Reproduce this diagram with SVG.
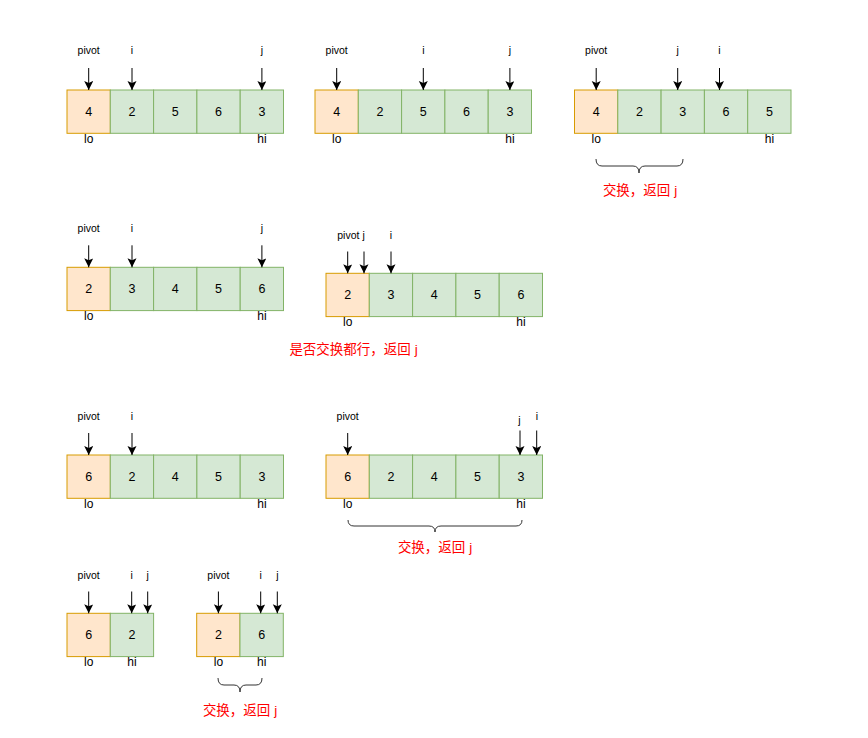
<svg xmlns="http://www.w3.org/2000/svg" width="868" height="738" viewBox="0 0 868 738">
<defs>
<marker id="ah" markerWidth="10" markerHeight="10" refX="9" refY="4.5" orient="auto" markerUnits="userSpaceOnUse">
<path d="M0,0 L9,4.5 L0,9 L2,4.5 Z" fill="#000"/>
</marker>
</defs>
<style>
text{font-family:"Liberation Sans","Noto Sans CJK SC",sans-serif;fill:#000;text-anchor:middle;dominant-baseline:central}
.p rect{fill:#ffe6cc;stroke:#d79b00;stroke-width:1}
.g rect{fill:#d5e8d4;stroke:#82b366;stroke-width:1}
.v{font-size:12.5px}
.lb{font-size:10.5px}
.lh{font-size:12px}
.red{fill:#ff0000;font-size:13.5px}
.red2{fill:#ff0000;font-size:13.5px}
#conn line{stroke:#000;stroke-width:1;marker-end:url(#ah)}
.br{fill:none;stroke:#333;stroke-width:1}
</style>
<rect width="868" height="738" fill="#fff"/>

<!-- Array 1 -->
<g id="a1">
<g id="a1c0" class="p"><rect x="67" y="90" width="43.3" height="43.3"/><text class="v" x="88.7" y="111.7">4</text></g>
<g id="a1c1" class="g"><rect x="110.3" y="90" width="43.3" height="43.3"/><text class="v" x="132" y="111.7">2</text></g>
<g id="a1c2" class="g"><rect x="153.6" y="90" width="43.3" height="43.3"/><text class="v" x="175.3" y="111.7">5</text></g>
<g id="a1c3" class="g"><rect x="196.9" y="90" width="43.3" height="43.3"/><text class="v" x="218.6" y="111.7">6</text></g>
<g id="a1c4" class="g"><rect x="240.2" y="90" width="43.3" height="43.3"/><text class="v" x="261.9" y="111.7">3</text></g>
<g id="a1lbl"><text class="lb" x="88.7" y="50">pivot</text><text class="lb" x="132" y="50">i</text><text class="lb" x="261.9" y="50">j</text>
<text class="lh" x="88.7" y="139">lo</text><text class="lh" x="261.9" y="139">hi</text></g>
</g>

<!-- Array 2 -->
<g id="a2">
<g id="a2c0" class="p"><rect x="315" y="90" width="43.3" height="43.3"/><text class="v" x="336.7" y="111.7">4</text></g>
<g id="a2c1" class="g"><rect x="358.3" y="90" width="43.3" height="43.3"/><text class="v" x="380" y="111.7">2</text></g>
<g id="a2c2" class="g"><rect x="401.6" y="90" width="43.3" height="43.3"/><text class="v" x="423.3" y="111.7">5</text></g>
<g id="a2c3" class="g"><rect x="444.9" y="90" width="43.3" height="43.3"/><text class="v" x="466.6" y="111.7">6</text></g>
<g id="a2c4" class="g"><rect x="488.2" y="90" width="43.3" height="43.3"/><text class="v" x="509.9" y="111.7">3</text></g>
<g id="a2lbl"><text class="lb" x="336.7" y="50">pivot</text><text class="lb" x="423.3" y="50">i</text><text class="lb" x="509.9" y="50">j</text>
<text class="lh" x="336.7" y="139">lo</text><text class="lh" x="509.9" y="139">hi</text></g>
</g>

<!-- Array 3 -->
<g id="a3">
<g id="a3c0" class="p"><rect x="574.5" y="90" width="43.3" height="43.3"/><text class="v" x="596.2" y="111.7">4</text></g>
<g id="a3c1" class="g"><rect x="617.8" y="90" width="43.3" height="43.3"/><text class="v" x="639.5" y="111.7">2</text></g>
<g id="a3c2" class="g"><rect x="661.1" y="90" width="43.3" height="43.3"/><text class="v" x="682.8" y="111.7">3</text></g>
<g id="a3c3" class="g"><rect x="704.4" y="90" width="43.3" height="43.3"/><text class="v" x="726.1" y="111.7">6</text></g>
<g id="a3c4" class="g"><rect x="747.7" y="90" width="43.3" height="43.3"/><text class="v" x="769.4" y="111.7">5</text></g>
<g id="a3lbl"><text class="lb" x="596.2" y="50">pivot</text><text class="lb" x="677.7" y="50">j</text><text class="lb" x="719.5" y="50">i</text>
<text class="lh" x="596.2" y="139">lo</text><text class="lh" x="769.4" y="139">hi</text></g>
<path class="br" d="M596,159 Q596,166 602,166 L633,166 Q639,166 639,173 Q639,166 645,166 L677,166 Q683,166 683,159"/>
<text class="red" x="640" y="190">交换，返回 j</text>
</g>

<!-- Array 4 -->
<g id="a4">
<g id="a4c0" class="p"><rect x="67" y="267.3" width="43.3" height="43.3"/><text class="v" x="88.7" y="289">2</text></g>
<g id="a4c1" class="g"><rect x="110.3" y="267.3" width="43.3" height="43.3"/><text class="v" x="132" y="289">3</text></g>
<g id="a4c2" class="g"><rect x="153.6" y="267.3" width="43.3" height="43.3"/><text class="v" x="175.3" y="289">4</text></g>
<g id="a4c3" class="g"><rect x="196.9" y="267.3" width="43.3" height="43.3"/><text class="v" x="218.6" y="289">5</text></g>
<g id="a4c4" class="g"><rect x="240.2" y="267.3" width="43.3" height="43.3"/><text class="v" x="261.9" y="289">6</text></g>
<g id="a4lbl"><text class="lb" x="88.7" y="228">pivot</text><text class="lb" x="132" y="228">i</text><text class="lb" x="261.9" y="228">j</text>
<text class="lh" x="88.7" y="316">lo</text><text class="lh" x="261.9" y="316">hi</text></g>
</g>

<!-- Array 5 -->
<g id="a5">
<g id="a5c0" class="p"><rect x="326" y="273.3" width="43.3" height="43.3"/><text class="v" x="347.7" y="295">2</text></g>
<g id="a5c1" class="g"><rect x="369.3" y="273.3" width="43.3" height="43.3"/><text class="v" x="391" y="295">3</text></g>
<g id="a5c2" class="g"><rect x="412.6" y="273.3" width="43.3" height="43.3"/><text class="v" x="434.3" y="295">4</text></g>
<g id="a5c3" class="g"><rect x="455.9" y="273.3" width="43.3" height="43.3"/><text class="v" x="477.6" y="295">5</text></g>
<g id="a5c4" class="g"><rect x="499.2" y="273.3" width="43.3" height="43.3"/><text class="v" x="520.9" y="295">6</text></g>
<g id="a5lbl"><text class="lb" x="351" y="235">pivot j</text><text class="lb" x="391" y="235">i</text>
<text class="lh" x="347.7" y="322">lo</text><text class="lh" x="520.9" y="322">hi</text></g>
<text class="red2" x="353.5" y="349">是否交换都行，返回 j</text>
</g>

<!-- Array 6 -->
<g id="a6">
<g id="a6c0" class="p"><rect x="67" y="455" width="43.3" height="43.3"/><text class="v" x="88.7" y="476.7">6</text></g>
<g id="a6c1" class="g"><rect x="110.3" y="455" width="43.3" height="43.3"/><text class="v" x="132" y="476.7">2</text></g>
<g id="a6c2" class="g"><rect x="153.6" y="455" width="43.3" height="43.3"/><text class="v" x="175.3" y="476.7">4</text></g>
<g id="a6c3" class="g"><rect x="196.9" y="455" width="43.3" height="43.3"/><text class="v" x="218.6" y="476.7">5</text></g>
<g id="a6c4" class="g"><rect x="240.2" y="455" width="43.3" height="43.3"/><text class="v" x="261.9" y="476.7">3</text></g>
<g id="a6lbl"><text class="lb" x="88.7" y="416">pivot</text><text class="lb" x="132" y="416">i</text>
<text class="lh" x="88.7" y="504">lo</text><text class="lh" x="261.9" y="504">hi</text></g>
</g>

<!-- Array 7 -->
<g id="a7">
<g id="a7c0" class="p"><rect x="326" y="455" width="43.3" height="43.3"/><text class="v" x="347.7" y="476.7">6</text></g>
<g id="a7c1" class="g"><rect x="369.3" y="455" width="43.3" height="43.3"/><text class="v" x="391" y="476.7">2</text></g>
<g id="a7c2" class="g"><rect x="412.6" y="455" width="43.3" height="43.3"/><text class="v" x="434.3" y="476.7">4</text></g>
<g id="a7c3" class="g"><rect x="455.9" y="455" width="43.3" height="43.3"/><text class="v" x="477.6" y="476.7">5</text></g>
<g id="a7c4" class="g"><rect x="499.2" y="455" width="43.3" height="43.3"/><text class="v" x="520.9" y="476.7">3</text></g>
<g id="a7lbl"><text class="lb" x="347.7" y="416">pivot</text><text class="lb" x="519.5" y="420">j</text><text class="lb" x="537" y="416">i</text>
<text class="lh" x="347.7" y="504">lo</text><text class="lh" x="520.9" y="504">hi</text></g>
<path class="br" d="M348,520 Q348,526 354,526 L429,526 Q435,526 435,532 Q435,526 441,526 L516,526 Q522,526 522,520"/>
<text class="red" x="435" y="547">交换，返回 j</text>
</g>

<!-- Array 8 -->
<g id="a8">
<g id="a8c0" class="p"><rect x="67" y="613.3" width="43.3" height="43.3"/><text class="v" x="88.7" y="635">6</text></g>
<g id="a8c1" class="g"><rect x="110.3" y="613.3" width="43.3" height="43.3"/><text class="v" x="132" y="635">2</text></g>
<g id="a8lbl"><text class="lb" x="88.7" y="575">pivot</text><text class="lb" x="131.7" y="575">i</text><text class="lb" x="147.7" y="575">j</text>
<text class="lh" x="88.7" y="662">lo</text><text class="lh" x="132" y="662">hi</text></g>
</g>

<!-- Array 9 -->
<g id="a9">
<g id="a9c0" class="p"><rect x="196.7" y="613.3" width="43.3" height="43.3"/><text class="v" x="218.4" y="635">2</text></g>
<g id="a9c1" class="g"><rect x="240" y="613.3" width="43.3" height="43.3"/><text class="v" x="261.7" y="635">6</text></g>
<g id="a9lbl"><text class="lb" x="218.4" y="575">pivot</text><text class="lb" x="260.7" y="575">i</text><text class="lb" x="277.3" y="575">j</text>
<text class="lh" x="218.4" y="662">lo</text><text class="lh" x="261.7" y="662">hi</text></g>
<path class="br" d="M218,678 Q218,685 224,685 L234,685 Q240,685 240,692 Q240,685 246,685 L256,685 Q262,685 262,678"/>
<text class="red" x="240" y="710">交换，返回 j</text>
</g>

<!-- Connectors -->
<g id="conn">
<line x1="88.7" y1="68" x2="88.7" y2="90"/>
<line x1="132" y1="68" x2="132" y2="90"/>
<line x1="261.9" y1="68" x2="261.9" y2="90"/>
<line x1="336.7" y1="68" x2="336.7" y2="90"/>
<line x1="423.3" y1="68" x2="423.3" y2="90"/>
<line x1="509.9" y1="68" x2="509.9" y2="90"/>
<line x1="596.2" y1="68" x2="596.2" y2="90"/>
<line x1="677.7" y1="68" x2="677.7" y2="90"/>
<line x1="719.5" y1="68" x2="719.5" y2="90"/>
<line x1="88.7" y1="245.3" x2="88.7" y2="267.3"/>
<line x1="132" y1="245.3" x2="132" y2="267.3"/>
<line x1="261.9" y1="245.3" x2="261.9" y2="267.3"/>
<line x1="347.7" y1="251.5" x2="347.7" y2="273.3"/>
<line x1="364" y1="251.5" x2="364" y2="273.3"/>
<line x1="391" y1="251.5" x2="391" y2="273.3"/>
<line x1="88.7" y1="433" x2="88.7" y2="455"/>
<line x1="132" y1="433" x2="132" y2="455"/>
<line x1="347.7" y1="433" x2="347.7" y2="455"/>
<line x1="520" y1="430.5" x2="520" y2="455"/>
<line x1="536.7" y1="430.5" x2="536.7" y2="455"/>
<line x1="88.7" y1="591.5" x2="88.7" y2="613.3"/>
<line x1="131.7" y1="591.5" x2="131.7" y2="613.3"/>
<line x1="147.7" y1="591.5" x2="147.7" y2="613.3"/>
<line x1="218.4" y1="591.5" x2="218.4" y2="613.3"/>
<line x1="260.7" y1="591.5" x2="260.7" y2="613.3"/>
<line x1="277.3" y1="591.5" x2="277.3" y2="613.3"/>
</g>
</svg>
